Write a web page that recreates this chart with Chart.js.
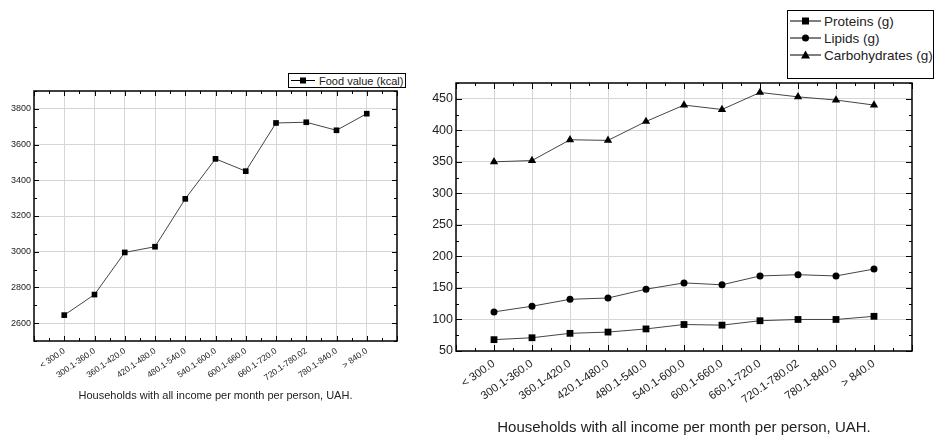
<!DOCTYPE html>
<html>
<head>
<meta charset="utf-8">
<script src="https://cdn.jsdelivr.net/npm/chart.js@4.4.1/dist/chart.umd.min.js"></script>
<style>
  body { margin: 0; background: #fff; width: 934px; height: 435px; position: relative; overflow: hidden;
         font-family: "Liberation Sans", Arial, sans-serif; color: #222; }
  canvas { position: absolute; top: 0; }
  #kcalChart { left: 0; }
  #gramChart { left: 420px; }
  .legend { position: absolute; border: 1px solid #000; background: #fff; box-sizing: border-box; }
  .legend .row { position: absolute; left: 0; display: flex; align-items: center; white-space: nowrap; }
  .legend svg { display: block; }
</style>
</head>
<body>
<canvas id="kcalChart" width="420" height="435"></canvas>
<canvas id="gramChart" width="514" height="435"></canvas>

<div class="legend" id="kcalLegend" style="left:288px; top:73px; width:118px; height:15px; font-size:11px;"></div>
<div class="legend" id="gramLegend" style="left:787px; top:10px; width:147px; height:69px; font-size:13.5px;"></div>

<script>
// data
const incomeGroups = ["< 300.0", "300.1-360.0", "360.1-420.0", "420.1-480.0", "480.1-540.0",
  "540.1-600.0", "600.1-660.0", "660.1-720.0", "720.1-780.02", "780.1-840.0", "> 840.0"];
const foodValue = [2645, 2760, 2996, 3028, 3296, 3520, 3451, 3721, 3725, 3680, 3773];
const proteins = [68, 71, 78, 80, 85, 92, 91, 98, 100, 100, 105];
const lipids = [112, 121, 132, 134, 148, 158, 155, 169, 171, 169, 180];
const carbohydrates = [350, 352, 385, 384, 414, 440, 433, 460, 453, 448, 440];
const kcalTicks = [2600, 2800, 3000, 3200, 3400, 3600, 3800];
const gramTicks = [50, 100, 150, 200, 250, 300, 350, 400, 450];
const xTitle = "Households with all income per month per person, UAH.";

Chart.defaults.color = "#222";
Chart.defaults.font.family = '"Liberation Sans", Arial, sans-serif';

function points(values) {
  return values.map((v, i) => ({ x: i, y: v }));
}

// frame with inward major/minor ticks, like the original plot
const frameTicks = {
  id: "frameTicks",
  afterDatasetsDraw(chart, args, opts) {
    const { ctx, chartArea: a, scales: { x, y } } = chart;
    ctx.save();
    ctx.strokeStyle = "#000";
    ctx.lineWidth = 1;
    ctx.beginPath();
    for (let v = x.min; v <= x.max; v += 0.5) {
      const px = Math.round(x.getPixelForValue(v)) + 0.5;
      const len = Number.isInteger(v) ? opts.major : opts.minor;
      ctx.moveTo(px, a.bottom); ctx.lineTo(px, a.bottom - len);
      ctx.moveTo(px, a.top); ctx.lineTo(px, a.top + len);
    }
    for (let v = y.min; v <= y.max; v += opts.yMinor) {
      const py = Math.round(y.getPixelForValue(v)) + 0.5;
      const len = v % opts.yMajor === 0 ? opts.major : opts.minor;
      ctx.moveTo(a.left, py); ctx.lineTo(a.left + len, py);
      ctx.moveTo(a.right, py); ctx.lineTo(a.right - len, py);
    }
    ctx.stroke();
    ctx.lineWidth = opts.border;
    ctx.strokeRect(a.left, a.top, a.right - a.left, a.bottom - a.top);
    ctx.restore();
  }
};

function makeChart(id, cfg) {
  return new Chart(document.getElementById(id), {
    type: "line",
    data: { datasets: cfg.datasets },
    options: {
      responsive: false,
      animation: false,
      layout: { padding: { top: cfg.top, right: cfg.right, left: 0, bottom: 0 } },
      plugins: {
        legend: { display: false },
        tooltip: { enabled: false },
        frameTicks: { major: cfg.majorLen, minor: cfg.minorLen, yMinor: cfg.yMinor, yMajor: cfg.yMajor, border: 1.5 }
      },
      scales: {
        x: {
          type: "linear",
          min: -1,
          max: 11,
          afterBuildTicks: s => { s.ticks = incomeGroups.map((g, i) => ({ value: i })); },
          afterFit: s => { s.height = cfg.xHeight; },
          grid: { color: "#d6d6d6", drawTicks: false },
          border: { display: false },
          ticks: {
            autoSkip: false,
            minRotation: 35,
            maxRotation: 35,
            padding: cfg.xPad,
            font: { size: cfg.xFont },
            callback: v => incomeGroups[v]
          },
          title: { display: true, text: xTitle, font: { size: cfg.titleFont }, padding: { top: 0, bottom: cfg.titlePad } }
        },
        y: {
          min: cfg.yMin,
          max: cfg.yMax,
          afterBuildTicks: s => { s.ticks = cfg.yTicks.map(v => ({ value: v })); },
          afterFit: s => { s.width = cfg.yWidth; },
          grid: { color: "#d6d6d6", drawTicks: false },
          border: { display: false },
          ticks: { padding: 3, font: { size: cfg.yFont }, callback: v => String(v) }
        }
      }
    },
    plugins: [frameTicks]
  });
}

function series(values, style, radius) {
  return {
    data: points(values),
    borderColor: "#444",
    borderWidth: 1,
    pointStyle: style,
    pointRadius: radius,
    pointBackgroundColor: "#000",
    pointBorderColor: "#000",
    pointBorderWidth: 0,
    tension: 0
  };
}

makeChart("kcalChart", {
  datasets: [series(foodValue, "rect", 4)],
  top: 91, right: 23, yWidth: 34, xHeight: 94,
  yMin: 2500, yMax: 3900, yTicks: kcalTicks, yMinor: 100, yMajor: 200,
  xFont: 8.5, yFont: 9, titleFont: 11, titlePad: 32, xPad: 5,
  majorLen: 5, minorLen: 3
});

makeChart("gramChart", {
  datasets: [
    series(proteins, "rect", 4.8),
    series(lipids, "circle", 3.5),
    series(carbohydrates, "triangle", 4.8)
  ],
  top: 83, right: 22, yWidth: 36, xHeight: 84,
  yMin: 50, yMax: 475, yTicks: gramTicks, yMinor: 25, yMajor: 50,
  xFont: 11.4, yFont: 12.5, titleFont: 15, titlePad: -2, xPad: 6,
  majorLen: 6, minorLen: 3
});

// legends: line + marker sample, then the name
function marker(kind, cx, cy, s) {
  if (kind === "rect") return `<rect x="${cx - s}" y="${cy - s}" width="${2 * s}" height="${2 * s}" fill="#000"/>`;
  if (kind === "circle") return `<circle cx="${cx}" cy="${cy}" r="${s}" fill="#000"/>`;
  return `<polygon points="${cx},${cy - s - 1} ${cx - s - 1},${cy + s} ${cx + s + 1},${cy + s}" fill="#000"/>`;
}

function legend(id, items, opt) {
  const box = document.getElementById(id);
  items.forEach((it, i) => {
    const row = document.createElement("div");
    row.className = "row";
    row.style.top = (opt.first + i * opt.step) + "px";
    row.style.height = opt.h + "px";
    const w = opt.lineW;
    const c = opt.h / 2;
    row.innerHTML = `<svg width="${w + opt.gap}" height="${opt.h}">` +
      `<line x1="${opt.x0}" y1="${c}" x2="${opt.x0 + w}" y2="${c}" stroke="#000" stroke-width="1"/>` +
      marker(it.kind, opt.x0 + w / 2, c, opt.ms) + `</svg><span>${it.label}</span>`;
    box.appendChild(row);
  });
}

legend("kcalLegend", [{ kind: "rect", label: "Food value (kcal)" }],
  { first: 0, step: 0, h: 13, lineW: 24, x0: 2, gap: 6, ms: 3 });
legend("gramLegend", [
  { kind: "rect", label: "Proteins (g)" },
  { kind: "circle", label: "Lipids (g)" },
  { kind: "triangle", label: "Carbohydrates (g)" }
], { first: 2, step: 17, h: 16, lineW: 31, x0: 2, gap: 5, ms: 3.5 });
</script>
</body>
</html>
